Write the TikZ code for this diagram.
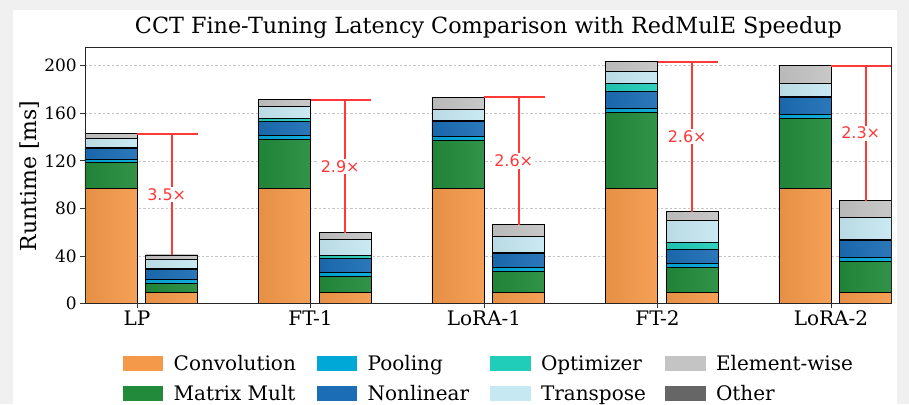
\documentclass[tikz,border=0pt]{standalone}
\usepackage{fontspec}
\setmainfont{DejaVu Serif}
\newfontfamily\sansfnt{DejaVu Sans}
\usetikzlibrary{shadings,positioning}

\definecolor{bggrey}{HTML}{F0F0F0}
\definecolor{cconv}{HTML}{F4994A}
\definecolor{cmm}{HTML}{228B3B}
\definecolor{cpool}{HTML}{00A8D8}
\definecolor{cnonlin}{HTML}{1B6DB5}
\definecolor{copt}{HTML}{20CDB8}
\definecolor{ctrans}{HTML}{C6E8F2}
\definecolor{celem}{HTML}{C4C4C4}
\definecolor{cother}{HTML}{666666}
\definecolor{cspeed}{HTML}{FF3838}

% one stacked bar: left edge, then colour/top pairs
\newcommand{\stackbar}[2]{%
  \foreach \c/\hi [remember=\hi as \lo (initially 0)] in {#2}
    \draw[seg=\c] (#1,\lo) rectangle (#1+0.3,\hi);
}

\begin{document}
\begin{tikzpicture}[x=1pt,y=1pt,
    titletext/.style={font=\fontsize{22.3}{26}\selectfont, anchor=base, inner sep=0pt},
    ylab/.style={font=\fontsize{22}{26}\selectfont, rotate=90, anchor=base, inner sep=0pt},
    ytick/.style={font=\fontsize{17}{20}\selectfont, anchor=east, inner sep=0pt},
    xtick/.style={font=\fontsize{20}{23}\selectfont, anchor=base, inner sep=0pt},
    gridline/.style={gray!45, line width=0.6pt, dash pattern=on 2.5pt off 2pt},
    tickline/.style={black!80, line width=0.8pt},
    axisframe/.style={black!85, line width=0.9pt},
    seg/.style={draw=black, line width=0.9pt, left color=#1!94!black, right color=#1!93!white},
    speedline/.style={draw=cspeed, line width=1.7pt},
    speedlab/.style={font=\sansfnt\fontsize{16}{19}\selectfont, text=cspeed, fill=white, inner sep=1.5pt, xshift=-5pt},
    legpatch/.style={minimum width=40.6pt, minimum height=14.7pt, inner sep=0pt},
    legtext/.style={font=\fontsize{20}{24}\selectfont, anchor=base west, inner sep=0pt}]

\fill[bggrey] (0,0) rectangle (909,404);
\fill[white] (13,0) rectangle (897,394);
\useasboundingbox (0,0) rectangle (909,404);

\node[titletext] (title) at (488.5,370) {CCT Fine-Tuning Latency Comparison with RedMulE Speedup};
\node[ylab] (ylab) at (36,228) {Runtime [ms]};

\begin{scope}[shift={(137pt,100.5pt)}, x=173.5pt, y=1.189pt]
  % grid
  \foreach \v in {40,80,...,200}
    \draw[gridline] (-0.3,\v) -- (4.35,\v);

  % baseline bars
  \stackbar{-0.3}{cconv/96.6, cmm/118.8, cpool/121.5, cnonlin/130.5, copt/130.9, ctrans/138.9, celem/142.6}
  \stackbar{0.7}{cconv/96.6, cmm/138.1, cpool/141.1, cnonlin/153.2, copt/156.0, ctrans/165.9, celem/171.2}
  \stackbar{1.7}{cconv/96.6, cmm/137.5, cpool/140.9, cnonlin/153.2, copt/153.6, ctrans/163.3, celem/173.4}
  \stackbar{2.7}{cconv/96.6, cmm/160.8, cpool/163.8, cnonlin/178.7, copt/184.9, ctrans/195.5, celem/203.4}
  \stackbar{3.7}{cconv/96.6, cmm/155.8, cpool/159.1, cnonlin/173.1, copt/174.5, ctrans/185.4, celem/200.0}
  % RedMulE bars
  \stackbar{0.05}{cconv/9.4, cmm/17.0, cpool/20.4, cnonlin/28.8, copt/29.2, ctrans/37.2, celem/40.8}
  \stackbar{1.05}{cconv/9.4, cmm/23.1, cpool/26.2, cnonlin/38.0, copt/40.8, ctrans/54.2, celem/59.5}
  \stackbar{2.05}{cconv/9.4, cmm/27.3, cpool/30.7, cnonlin/42.5, copt/42.9, ctrans/56.5, celem/66.3}
  \stackbar{3.05}{cconv/9.4, cmm/29.9, cpool/33.5, cnonlin/45.8, copt/51.5, ctrans/69.6, celem/77.2}
  \stackbar{4.05}{cconv/9.4, cmm/35.7, cpool/39.1, cnonlin/52.8, copt/54.2, ctrans/72.5, celem/86.5}

  % speedup marks
  \foreach \g/\bt/\rt/\s in {0/142.6/40.8/3.5, 1/171.2/59.5/2.9, 2/173.4/66.3/2.6, 3/203.4/77.2/2.6, 4/200.0/86.5/2.3} {
    \coordinate (b\g) at (\g,\bt);
    \coordinate (e\g) at (\g+0.35,\bt);
    \coordinate (r\g) at (\g+0.2,\rt);
    \draw[speedline] (b\g) -- (e\g);
    \draw[speedline] (r\g |- b\g) -- (r\g) node[speedlab, midway] (s\g) {\s×};
  }

  \draw[axisframe] (-0.3,0) rectangle (4.35,215);

  % ticks
  \foreach \v in {0,40,...,200} {
    \draw[tickline] (-0.3,\v) -- ++(-5pt,0);
    \node[ytick] (yt\v) at ([xshift=-8pt]-0.3,\v) {\v};
  }
  \foreach \g/\lab in {0/LP, 1/FT-1, 2/LoRA-1, 3/FT-2, 4/LoRA-2} {
    \draw[tickline] (\g,0) -- ++(0,-5pt);
    \node[xtick] (xt\g) at ([yshift=-22pt]\g,0) {\lab};
  }
\end{scope}

% legend
\foreach \c/\lab/\px/\py in {cconv/Convolution/122.7/40.7, cmm/Matrix Mult/122.7/10.5,
    cpool/Pooling/316.7/40.7, cnonlin/Nonlinear/316.7/10.5,
    copt/Optimizer/490/40.7, ctrans/Transpose/490/10.5,
    celem/Element-wise/665/40.7, cother/Other/665/10.5} {
  \node[legpatch, fill=\c] (l-\c) at (\px+20.3,\py) {};
  \node[legtext] (t-\c) at ([xshift=10pt,yshift=-7.3pt]l-\c.east) {\lab};
}
\end{tikzpicture}
\end{document}
